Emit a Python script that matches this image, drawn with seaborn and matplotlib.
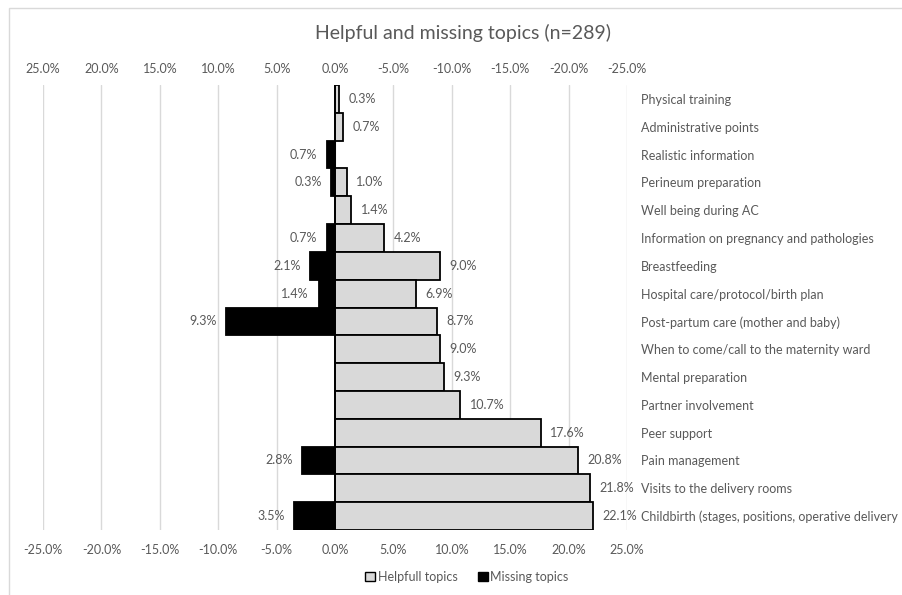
import matplotlib
matplotlib.use("Agg")
import matplotlib.pyplot as plt
import seaborn as sns
import pandas as pd
from matplotlib.patches import Patch, Rectangle

categories = [
    "Physical training",
    "Administrative points",
    "Realistic information",
    "Perineum preparation",
    "Well being during AC",
    "Information on pregnancy and pathologies",
    "Breastfeeding",
    "Hospital care/protocol/birth plan",
    "Post-partum care (mother and baby)",
    "When to come/call to the maternity ward",
    "Mental preparation",
    "Partner involvement",
    "Peer support",
    "Pain management",
    "Visits to the delivery rooms",
    "Childbirth (stages, positions, operative delivery",
]
helpful = [0.3, 0.7, 0.0, 1.0, 1.4, 4.2, 9.0, 6.9, 8.7, 9.0, 9.3, 10.7, 17.6, 20.8, 21.8, 22.1]
missing = [0.0, 0.0, 0.7, 0.3, 0.0, 0.7, 2.1, 1.4, 9.3, 0.0, 0.0, 0.0, 0.0, 2.8, 0.0, 3.5]
ticks = [-25, -20, -15, -10, -5, 0, 5, 10, 15, 20, 25]

df = pd.DataFrame({"topic": categories, "helpful": helpful,
                   "missing_neg": [-m for m in missing], "missing": missing})

sns.set_theme(style="white")
FONT = ["Lato", "DejaVu Sans"]
plt.rcParams["font.family"] = FONT
TXT = "#595959"
FS = 9

fig = plt.figure(figsize=(9.03, 5.95), dpi=100)
ax = fig.add_axes([43 / 903, 1 - 530 / 595, (627 - 43) / 903, (530 - 85) / 595])

# outer chart border
fig.patches.append(Rectangle((9 / 903, -0.1), 1.2, 1 - 8 / 595 + 0.1, transform=fig.transFigure,
                             fill=False, edgecolor="#d9d9d9", linewidth=1.0, zorder=0))

sns.barplot(data=df, y="topic", x="helpful", orient="h", color="#d9d9d9",
            edgecolor="black", linewidth=1.3, width=1.0, saturation=1, ax=ax, zorder=3)
sns.barplot(data=df, y="topic", x="missing_neg", orient="h", color="black",
            edgecolor="black", linewidth=1.3, width=1.0, saturation=1, ax=ax, zorder=3)

ax.set_xlim(-25, 25)
ax.set_ylim(15.5, -0.5)
ax.set_xticks(ticks)
ax.set_xticklabels([f"{t:.1f}%" for t in ticks])
ax.set_xlabel("")
ax.set_ylabel("")
for t in ticks:
    ax.axvline(t, color="#d9d9d9", linewidth=1.0, zorder=0)
for s in ax.spines.values():
    s.set_visible(False)

ax.yaxis.tick_right()
ax.tick_params(axis="y", length=0, pad=10, labelsize=FS, labelcolor=TXT)
ax.tick_params(axis="x", length=0, pad=10, labelsize=FS, labelcolor=TXT)

sec = ax.secondary_xaxis("top", functions=(lambda x: -x, lambda x: -x))
sec.set_xticks(ticks)
sec.set_xticklabels([f"{t:.1f}%" for t in ticks])
sec.tick_params(axis="x", length=0, pad=7, labelsize=FS, labelcolor=TXT)
for s in sec.spines.values():
    s.set_visible(False)

for i, (h, m) in enumerate(zip(helpful, missing)):
    if h > 0:
        ax.annotate(f"{h:.1f}%", (h, i), xytext=(7, 0), textcoords="offset points",
                    va="center", ha="left", fontsize=FS, color=TXT)
    if m > 0:
        ax.annotate(f"{m:.1f}%", (-m, i), xytext=(-7, 0), textcoords="offset points",
                    va="center", ha="right", fontsize=FS, color=TXT)

fig.text(463 / 903, 1 - 33 / 595, "Helpful and missing topics (n=289)", ha="center",
         va="center", fontsize=14, color=TXT)

handles = [Patch(facecolor="#d9d9d9", edgecolor="black", linewidth=1.0, label="Helpfull topics"),
           Patch(facecolor="black", edgecolor="black", label="Missing topics")]
fig.legend(handles=handles, loc="center", bbox_to_anchor=(467 / 903, 1 - 577 / 595), ncol=2,
           frameon=False, fontsize=FS, labelcolor=TXT, handlelength=0.8, handleheight=0.8,
           handletextpad=0.2, columnspacing=1.6)

fig.savefig("out.png", dpi=100)
